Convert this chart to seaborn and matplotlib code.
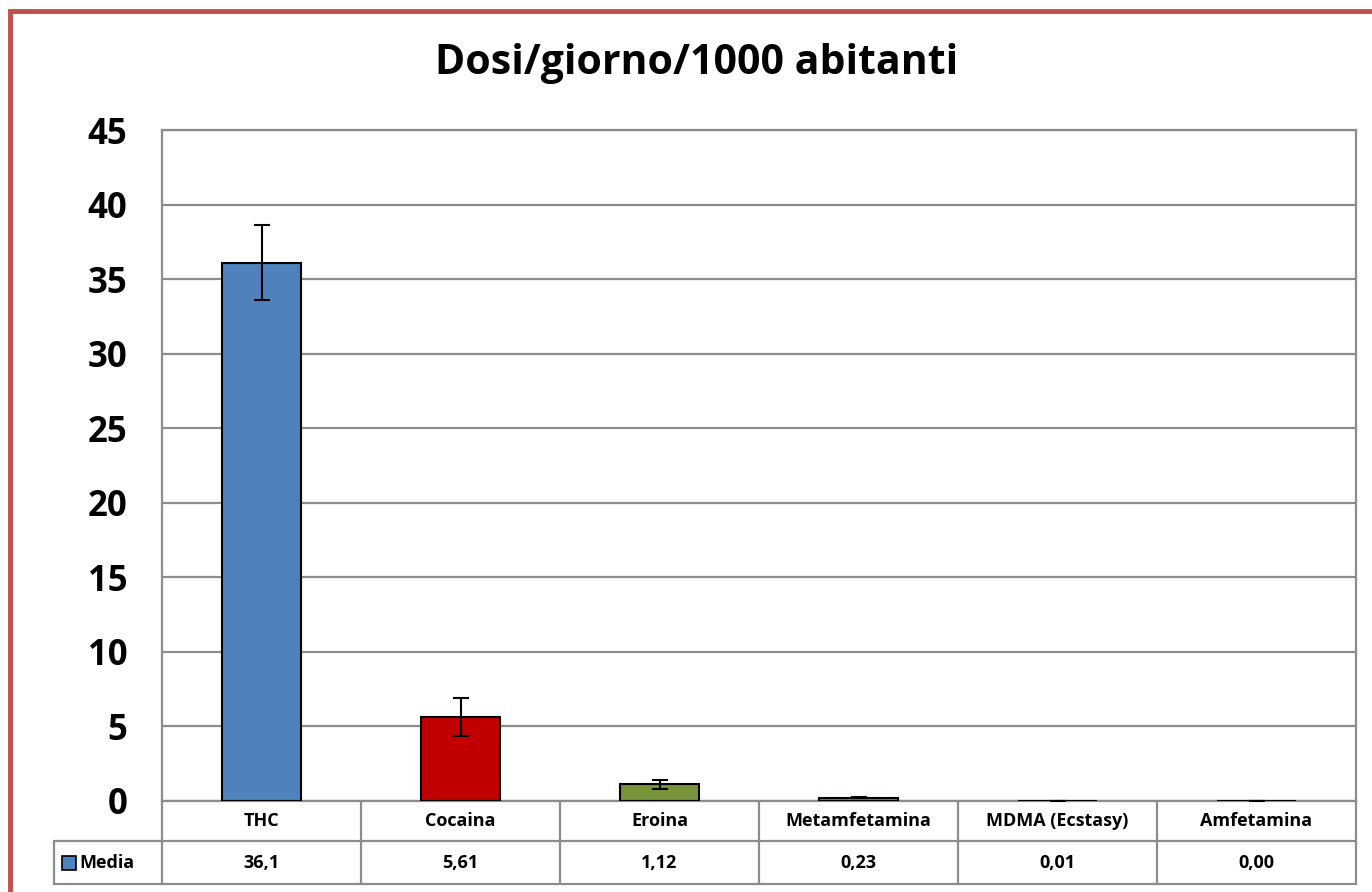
import matplotlib
matplotlib.use("Agg")
import matplotlib.pyplot as plt
import matplotlib.transforms as mtransforms
from matplotlib.patches import Rectangle
import seaborn as sns
import pandas as pd

categories = ["THC", "Cocaina", "Eroina", "Metamfetamina", "MDMA (Ecstasy)", "Amfetamina"]
values = [36.1, 5.61, 1.12, 0.23, 0.01, 0.00]
errors = [2.5, 1.27, 0.3, 0.05, 0.0, 0.0]
value_labels = ["36,1", "5,61", "1,12", "0,23", "0,01", "0,00"]
bar_colors = ["#4F81BD", "#C00000", "#77933C", "#4F81BD", "#4F81BD", "#4F81BD"]
series_name = "Media"
title = "Dosi/giorno/1000 abitanti"

sns.set_style("white")
plt.rcParams["font.family"] = ["Open Sans", "DejaVu Sans"]
plt.rcParams["text.color"] = "black"
plt.rcParams["ytick.color"] = "black"

grid_col = "#8C8C8C"

fig = plt.figure(figsize=(13.72, 8.92), dpi=100)
ax = fig.add_axes([162 / 1372, 1 - 801 / 892, 1194 / 1372, 671 / 892])

df = pd.DataFrame({"cat": categories, "val": values})
sns.barplot(data=df, x="cat", y="val", hue="cat", palette=bar_colors, legend=False,
            saturation=1, width=0.4, edgecolor="black", linewidth=1.5, ax=ax, zorder=3)
ax.errorbar(range(len(categories)), values, yerr=errors, fmt="none",
            ecolor="black", elinewidth=1.5, capsize=5.5, capthick=1.5, zorder=4)

ax.set_ylim(0, 45)
ax.set_xlim(-0.5, len(categories) - 0.5)
ax.set_yticks(range(0, 46, 5))
ax.set_yticklabels([str(v) for v in range(0, 46, 5)], fontsize=25, fontweight="bold")
ax.tick_params(axis="y", length=0, pad=25, labelcolor="black")
ax.set_xticks([])
ax.set_xlabel("")
ax.set_ylabel("")
ax.yaxis.grid(True, color=grid_col, linewidth=1.6, zorder=0)
ax.set_axisbelow(True)
for s in ax.spines.values():
    s.set_color(grid_col)
    s.set_linewidth(1.6)

# data table below the plot
trans = mtransforms.blended_transform_factory(ax.transData, ax.transAxes)
row1 = -40 / 671
row2 = -83 / 671
leg_left = -0.5 - 108 / 199
n = len(categories)
line_kw = dict(color=grid_col, linewidth=1.6, transform=trans, clip_on=False)
ax.plot([leg_left, n - 0.5], [row1, row1], **line_kw)
ax.plot([leg_left, n - 0.5], [row2, row2], **line_kw)
ax.plot([leg_left, leg_left], [row1, row2], **line_kw)
ax.plot([-0.5, -0.5], [0, row2], **line_kw)
ax.plot([n - 0.5, n - 0.5], [0, row2], **line_kw)
for i in range(n - 1):
    ax.plot([i + 0.5, i + 0.5], [0, row2], **line_kw)

for i, (c, v) in enumerate(zip(categories, value_labels)):
    ax.text(i, row1 / 2, c, transform=trans, ha="center", va="center",
            fontsize=13, fontweight="bold", color="black")
    ax.text(i, (row1 + row2) / 2, v, transform=trans, ha="center", va="center",
            fontsize=13, fontweight="bold", color="black")

ax.add_patch(Rectangle((-0.5 - 100 / 199, (row1 + row2) / 2 - 7 / 671), 14 / 199, 14 / 671,
                       transform=trans, facecolor=bar_colors[0], edgecolor="black",
                       linewidth=1.2, clip_on=False))
ax.text(-0.5 - 83 / 199, (row1 + row2) / 2, series_name, transform=trans,
        ha="left", va="center", fontsize=13, fontweight="bold", color="black")

fig.text(697 / 1372, 1 - 63 / 892, title, ha="center", va="center",
         fontsize=29.5, fontweight="bold", color="black")

# red frame around the chart (cut off at right and bottom)
fig.patches.append(Rectangle((10 / 1372, -0.2), 1.3, 1.2 - 11 / 892,
                             transform=fig.transFigure, fill=False,
                             edgecolor="#C0504D", linewidth=3.5))

fig.savefig("out.png", dpi=100)
